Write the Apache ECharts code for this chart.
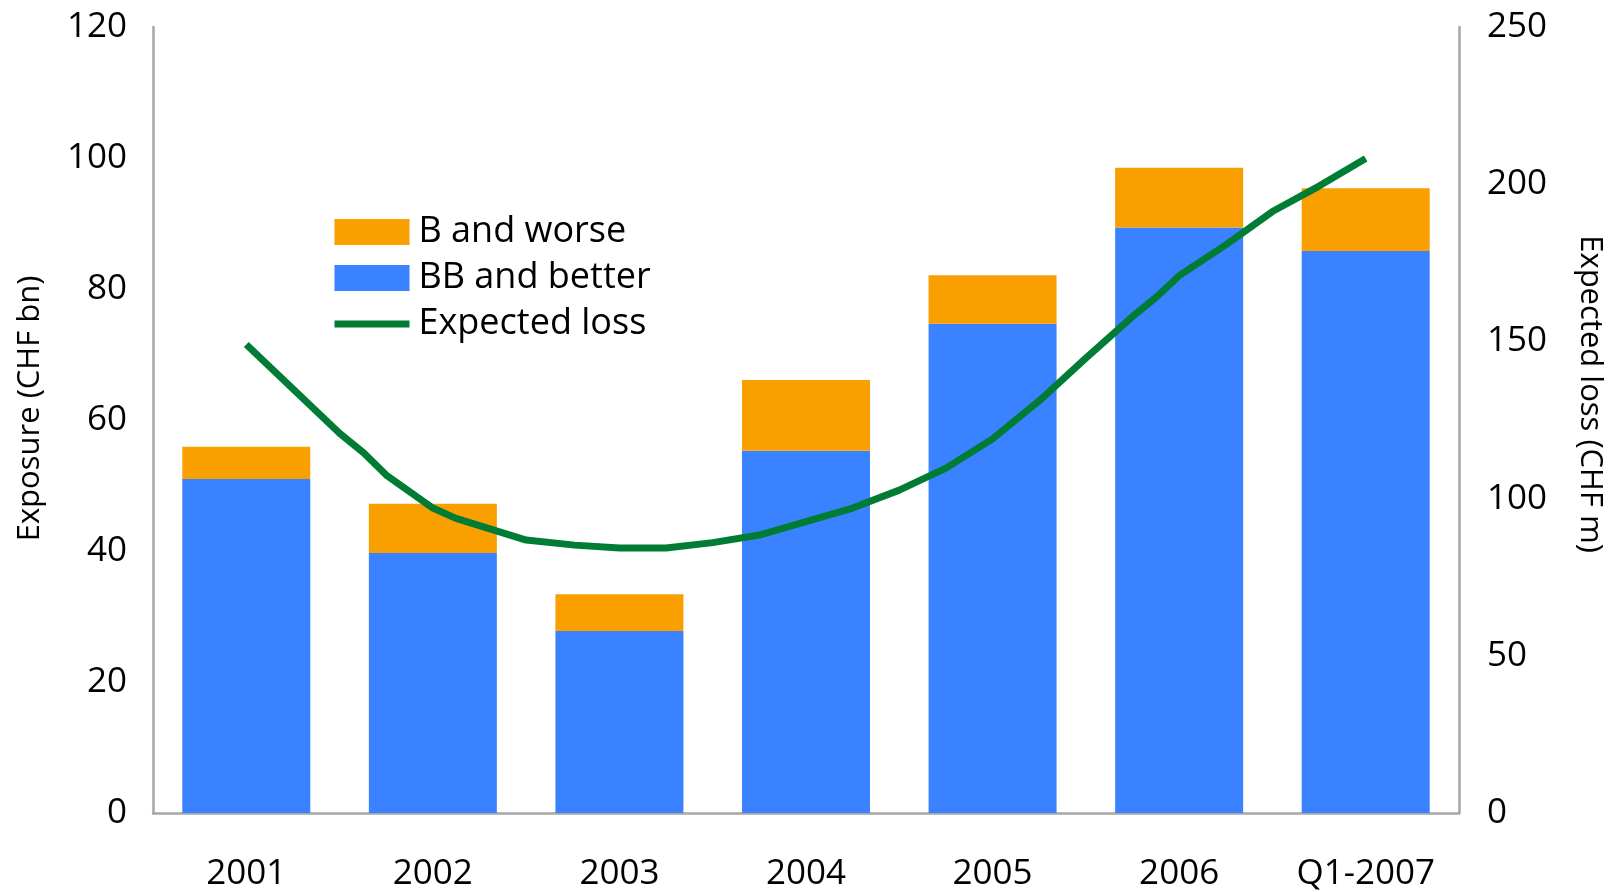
<!DOCTYPE html>
<html>
<head>
<meta charset="utf-8">
<script src="https://cdn.jsdelivr.net/npm/echarts@6/dist/echarts.min.js"></script>
<style>
html,body{margin:0;padding:0;background:#fff;}
#chart{width:1614px;height:892px;}
</style>
</head>
<body>
<div id="chart"></div>
<script>
const categories = ['2001','2002','2003','2004','2005','2006','Q1-2007'];
const bbAndBetter = [51.0, 39.7, 27.8, 55.3, 74.7, 89.4, 85.8];
const bAndWorse = [4.9, 7.5, 5.6, 10.8, 7.4, 9.1, 9.6];
// expected loss: position in category units (0 = 2001 ... 6 = Q1-2007), value in CHF m
const lossPos = [0, 0.5, 0.63, 0.75, 1.0, 1.12, 1.5, 1.76, 2.0, 2.25, 2.5, 2.75, 3.0, 3.25, 3.5, 3.75, 4.0, 4.25, 4.5, 4.75, 4.88, 5.0, 5.25, 5.5, 5.75, 6.0];
const lossVal = [149, 120.8, 114.5, 107.5, 97.0, 93.8, 86.8, 85.2, 84.3, 84.3, 86.0, 88.4, 92.7, 97.0, 102.7, 109.7, 119.0, 131.1, 144.7, 157.9, 164.2, 170.9, 180.7, 191.3, 199.4, 208.2];
const leftTicks = {min: 0, max: 120, interval: 20};
const rightTicks = {min: 0, max: 250, interval: 50};

const FONT = '"Open Sans", sans-serif';
const chart = echarts.init(document.getElementById('chart'));
chart.setOption({
  animation: false,
  textStyle: {fontFamily: FONT, color: '#000'},
  grid: {left: 153, right: 155, top: 27, bottom: 78},
  legend: {
    orient: 'vertical', left: 331, top: 214, padding: 0,
    itemWidth: 75, itemHeight: 26, itemGap: 10,
    textStyle: {fontFamily: FONT, fontSize: 36, color: '#000', lineHeight: 35, padding: [0,0,0,4]},
    data: [
      {name: 'B and worse', icon: 'rect'},
      {name: 'BB and better', icon: 'rect'},
      {name: 'Expected loss', itemStyle: {opacity: 0}, lineStyle: {width: 7, color: '#007C35'}}
    ]
  },
  xAxis: [{
    type: 'category', data: categories,
    axisLine: {lineStyle: {color: '#A6A6A6', width: 2.5}},
    axisTick: {show: false},
    axisLabel: {fontFamily: FONT, fontSize: 35, color: '#000', margin: 44}
  }, {
    type: 'value', min: -0.5, max: 6.5, show: false
  }],
  yAxis: [{
    type: 'value', min: leftTicks.min, max: leftTicks.max, interval: leftTicks.interval,
    name: 'Exposure (CHF bn)', nameLocation: 'middle', nameGap: 107,
    nameTextStyle: {fontFamily: FONT, fontSize: 31, color: '#000', padding: [0, 0, 0, 23]},
    axisLine: {show: true, onZero: false, lineStyle: {color: '#A6A6A6', width: 2.5}},
    axisTick: {show: false}, splitLine: {show: false},
    axisLabel: {fontFamily: FONT, fontSize: 35, color: '#000', margin: 26}
  }, {
    type: 'value', min: rightTicks.min, max: rightTicks.max, interval: rightTicks.interval,
    position: 'right',
    name: 'Expected loss (CHF m)', nameLocation: 'middle', nameGap: 115, nameRotate: -90,
    nameTextStyle: {fontFamily: FONT, fontSize: 31, color: '#000', padding: [0, 52, 0, 0]},
    axisLine: {show: true, onZero: false, lineStyle: {color: '#A6A6A6', width: 2.5}},
    axisTick: {show: false}, splitLine: {show: false},
    axisLabel: {fontFamily: FONT, fontSize: 35, color: '#000', margin: 28}
  }],
  series: [{
    name: 'BB and better', type: 'bar', stack: 'exp', data: bbAndBetter,
    barWidth: 128, itemStyle: {color: '#3A82FF'}
  }, {
    name: 'B and worse', type: 'bar', stack: 'exp', data: bAndWorse,
    barWidth: 128, itemStyle: {color: '#F9A000'}
  }, {
    name: 'Expected loss', type: 'line', xAxisIndex: 1, yAxisIndex: 1,
    data: lossPos.map((p, i) => [p, lossVal[i]]),
    symbol: 'none', showSymbol: false, z: 5,
    lineStyle: {color: '#007C35', width: 7},
    itemStyle: {color: '#007C35'}
  }]
});
</script>
</body>
</html>
